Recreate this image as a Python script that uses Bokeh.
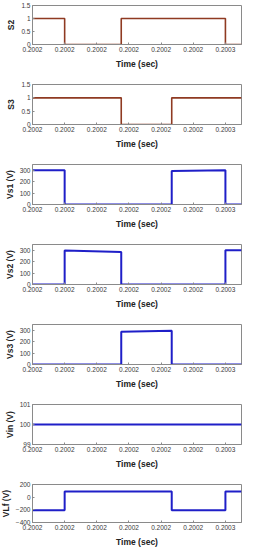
from bokeh.plotting import figure
from bokeh.layouts import column
from bokeh.models import Range1d, FixedTicker, CustomJSTickFormatter
from bokeh.embed import file_html
from bokeh.resources import INLINE

# ---- data ----
x_ticks = [0.20019, 0.20020, 0.20021, 0.20022, 0.20023, 0.20024, 0.20025]
x_tick_labels = ["0.2002", "0.2002", "0.2002", "0.2002", "0.2002", "0.2002", "0.2003"]
x_start = 0.20019
x_end = 0.200255

# switching instants (s)
e1 = 0.2002000
e2 = 0.2002176
e3 = 0.2002333
e4 = 0.2002500

s2_t = [x_start, e1, e1, e2, e2, e4, e4, x_end]
s2_v = [1, 1, 0, 0, 1, 1, 0, 0]

s3_t = [x_start, e2, e2, e3, e3, x_end]
s3_v = [1, 1, 0, 0, 1, 1]

vs1_t = [x_start, e1, e1, e3, e3, e4, e4, x_end]
vs1_v = [300, 300, 0, 0, 293, 299, 0, 0]

vs2_t = [x_start, e1, e1, e2, e2, e4, e4, x_end]
vs2_v = [0, 0, 298, 285, 0, 0, 300, 300]

vs3_t = [x_start, e2, e2, e3, e3, x_end]
vs3_v = [0, 0, 287, 296, 0, 0]

vin_t = [x_start, x_end]
vin_v = [100, 100]

vlf_t = [x_start, e1, e1, e3, e3, e4, e4, x_end]
vlf_v = [-205, -205, 88, 88, -205, -205, 88, 88]

panels = [
    ("S2", s2_t, s2_v, (0, 1.5), [0, 0.5, 1, 1.5], "#8f3a22", 1.6),
    ("S3", s3_t, s3_v, (0, 1.5), [0, 0.5, 1, 1.5], "#8f3a22", 1.6),
    ("Vs1 (V)", vs1_t, vs1_v, (0, 350), [0, 100, 200, 300], "#1f1fc8", 2.0),
    ("Vs2 (V)", vs2_t, vs2_v, (0, 350), [0, 100, 200, 300], "#1f1fc8", 2.0),
    ("Vs3 (V)", vs3_t, vs3_v, (0, 350), [0, 100, 200, 300], "#1f1fc8", 2.0),
    ("Vin (V)", vin_t, vin_v, (99, 101), [99, 100, 101], "#1f1fc8", 2.0),
    ("VLf (V)", vlf_t, vlf_v, (-400, 200), [-400, -200, 0, 200], "#1f1fc8", 2.0),
]

FONT = "Liberation Sans"
TXT = "#3a3a3a"
BOX = "#8a8a8a"

xfmt_code = """
let i = 0, b = 1e9;
for (let k = 0; k < xt.length; k++) {
  const d = Math.abs(xt[k] - tick);
  if (d < b) { b = d; i = k; }
}
return lab[i];
"""

n = len(panels)
figs = []
for i, (name, t, v, yr, yt, col, lw) in enumerate(panels):
    if i == 0:
        h, top = 71, 5
    elif i == n - 1:
        h, top = 78, 13
    else:
        h, top = 80, 13
    p = figure(width=246, height=h, output_backend="svg", toolbar_location=None,
               x_range=Range1d(x_start, x_end), y_range=Range1d(*yr),
               min_border_top=top, min_border_bottom=0,
               min_border_left=0, min_border_right=2)
    p.line(t, v, line_color=col, line_width=lw)
    p.xgrid.visible = False
    p.ygrid.visible = False
    p.outline_line_color = BOX
    p.outline_line_width = 1
    p.background_fill_color = "white"
    p.border_fill_color = "white"

    xa = p.xaxis[0]
    xa.ticker = FixedTicker(ticks=x_ticks)
    xa.formatter = CustomJSTickFormatter(args=dict(xt=x_ticks, lab=x_tick_labels), code=xfmt_code)
    xa.axis_label = "Time (sec)"
    ya = p.yaxis[0]
    ya.ticker = FixedTicker(ticks=yt)
    ya.axis_label = name
    for ax in (xa, ya):
        ax.axis_line_color = BOX
        ax.major_tick_line_color = BOX
        ax.major_tick_in = 2
        ax.major_tick_out = 0
        ax.minor_tick_line_color = None
        ax.major_label_text_font = FONT
        ax.major_label_text_font_size = "6.5px"
        ax.major_label_text_color = TXT
        ax.axis_label_text_font = FONT
        ax.axis_label_text_font_style = "bold"
        ax.axis_label_text_color = "#222222"
        ax.axis_label_text_font_size = "8.5px"
        ax.major_label_standoff = 2
        ax.axis_label_standoff = 2
    xa.major_label_standoff = 2
    xa.axis_label_standoff = 4
    figs.append(p)

layout = column(*figs, spacing=0, margin=(0, 0, -10, -3))
open("out.html", "w").write(file_html(layout, INLINE))
